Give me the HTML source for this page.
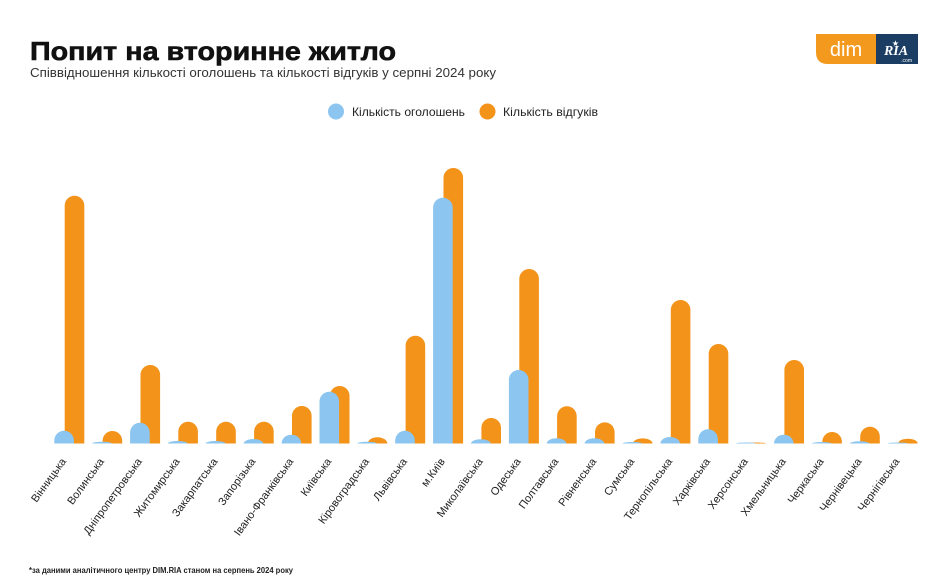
<!DOCTYPE html>
<html><head><meta charset="utf-8">
<style>
html,body{margin:0;padding:0;background:#fff;}
body{width:940px;height:588px;overflow:hidden;}
svg{display:block;}
text{font-family:"Liberation Sans","DejaVu Sans",sans-serif;}
</style></head>
<body>
<svg width="940" height="588" viewBox="0 0 940 588" xmlns="http://www.w3.org/2000/svg">
<rect width="940" height="588" fill="#fff"/>
<text x="30" y="60" font-size="26" font-weight="bold" fill="#111" stroke="#111" stroke-width="0.6" textLength="366" lengthAdjust="spacingAndGlyphs">Попит на вторинне житло</text>
<text x="30" y="77" font-size="12.5" fill="#333" textLength="466" lengthAdjust="spacingAndGlyphs">Співвідношення кількості оголошень та кількості відгуків у серпні 2024 року</text>

<!-- logo -->
<path d="M816,34 H876 V64 H828 Q816,64 816,52 Z" fill="#f39a1e"/>
<text x="846" y="56" font-size="20" fill="#fff" text-anchor="middle">dim</text>
<rect x="876" y="34" width="42" height="30" fill="#1b3d63"/>
<text x="896" y="55" font-size="14" font-weight="bold" font-style="italic" fill="#fff" text-anchor="middle" style="font-family:'Liberation Serif',serif">RIA</text>
<text x="895.5" y="46" font-size="8" fill="#fff" text-anchor="middle">★</text>
<text x="912" y="62" font-size="5" fill="#fff" text-anchor="end">.com</text>

<!-- legend -->
<circle cx="336" cy="111.5" r="8" fill="#8cc5ef"/>
<text x="352" y="116" font-size="11.5" fill="#222" textLength="113" lengthAdjust="spacingAndGlyphs">Кількість оголошень</text>
<circle cx="487.5" cy="111.5" r="8" fill="#f3931a"/>
<text x="503" y="116" font-size="11.5" fill="#222" textLength="95" lengthAdjust="spacingAndGlyphs">Кількість відгуків</text>

<!-- orange bars -->
<g fill="#f3931a">
<path d="M64.7,443.5 V205.5 A9.8,9.8 0 0 1 84.3,205.5 V443.5 Z"/>
<path d="M102.6,443.5 V440.8 A9.8,9.8 0 0 1 122.2,440.8 V443.5 Z"/>
<path d="M140.5,443.5 V374.8 A9.8,9.8 0 0 1 160.1,374.8 V443.5 Z"/>
<path d="M178.3,443.5 V431.5 A9.8,9.8 0 0 1 197.9,431.5 V443.5 Z"/>
<path d="M216.2,443.5 V431.5 A9.8,9.8 0 0 1 235.8,431.5 V443.5 Z"/>
<path d="M254.1,443.5 V431.5 A9.8,9.8 0 0 1 273.7,431.5 V443.5 Z"/>
<path d="M292.0,443.5 V415.8 A9.8,9.8 0 0 1 311.6,415.8 V443.5 Z"/>
<path d="M329.9,443.5 V395.8 A9.8,9.8 0 0 1 349.5,395.8 V443.5 Z"/>
<path d="M367.7,443.5 A9.8,6.2 0 0 1 387.3,443.5 Z"/>
<path d="M405.6,443.5 V345.5 A9.8,9.8 0 0 1 425.2,345.5 V443.5 Z"/>
<path d="M443.5,443.5 V177.8 A9.8,9.8 0 0 1 463.1,177.8 V443.5 Z"/>
<path d="M481.4,443.5 V427.8 A9.8,9.8 0 0 1 501.0,427.8 V443.5 Z"/>
<path d="M519.3,443.5 V278.8 A9.8,9.8 0 0 1 538.9,278.8 V443.5 Z"/>
<path d="M557.1,443.5 V416.1 A9.8,9.8 0 0 1 576.7,416.1 V443.5 Z"/>
<path d="M595.0,443.5 V432.1 A9.8,9.8 0 0 1 614.6,432.1 V443.5 Z"/>
<path d="M632.9,443.5 A9.8,5.2 0 0 1 652.5,443.5 Z"/>
<path d="M670.8,443.5 V309.8 A9.8,9.8 0 0 1 690.4,309.8 V443.5 Z"/>
<path d="M708.7,443.5 V353.8 A9.8,9.8 0 0 1 728.3,353.8 V443.5 Z"/>
<path d="M746.5,443.5 A9.8,1 0 0 1 766.1,443.5 Z"/>
<path d="M784.4,443.5 V369.8 A9.8,9.8 0 0 1 804.0,369.8 V443.5 Z"/>
<path d="M822.3,443.5 V441.8 A9.8,9.8 0 0 1 841.9,441.8 V443.5 Z"/>
<path d="M860.2,443.5 V436.5 A9.8,9.8 0 0 1 879.8,436.5 V443.5 Z"/>
<path d="M898.1,443.5 A9.8,4.8 0 0 1 917.7,443.5 Z"/>
</g>

<!-- blue bars -->
<g fill="#8cc5ef">
<path d="M54.3,443.5 V440.5 A9.8,9.8 0 0 1 73.9,440.5 V443.5 Z"/>
<path d="M92.2,443.5 A9.8,1.8 0 0 1 111.8,443.5 Z"/>
<path d="M130.1,443.5 V432.5 A9.8,9.8 0 0 1 149.7,432.5 V443.5 Z"/>
<path d="M167.9,443.5 A9.8,2.5 0 0 1 187.5,443.5 Z"/>
<path d="M205.8,443.5 A9.8,2.5 0 0 1 225.4,443.5 Z"/>
<path d="M243.7,443.5 A9.8,4.5 0 0 1 263.3,443.5 Z"/>
<path d="M281.6,443.5 A9.8,8.8 0 0 1 301.2,443.5 Z"/>
<path d="M319.5,443.5 V401.5 A9.8,9.8 0 0 1 339.1,401.5 V443.5 Z"/>
<path d="M357.3,443.5 A9.8,1.8 0 0 1 376.9,443.5 Z"/>
<path d="M395.2,443.5 V440.5 A9.8,9.8 0 0 1 414.8,440.5 V443.5 Z"/>
<path d="M433.1,443.5 V207.5 A9.8,9.8 0 0 1 452.7,207.5 V443.5 Z"/>
<path d="M471.0,443.5 A9.8,4.2 0 0 1 490.6,443.5 Z"/>
<path d="M508.9,443.5 V379.8 A9.8,9.8 0 0 1 528.5,379.8 V443.5 Z"/>
<path d="M546.7,443.5 A9.8,5.2 0 0 1 566.3,443.5 Z"/>
<path d="M584.6,443.5 A9.8,5.2 0 0 1 604.2,443.5 Z"/>
<path d="M622.5,443.5 A9.8,1.5 0 0 1 642.1,443.5 Z"/>
<path d="M660.4,443.5 A9.8,6.5 0 0 1 680.0,443.5 Z"/>
<path d="M698.3,443.5 V439.1 A9.8,9.8 0 0 1 717.9,439.1 V443.5 Z"/>
<path d="M736.1,443.5 A9.8,1 0 0 1 755.7,443.5 Z"/>
<path d="M774.0,443.5 A9.8,8.8 0 0 1 793.6,443.5 Z"/>
<path d="M811.9,443.5 A9.8,1.5 0 0 1 831.5,443.5 Z"/>
<path d="M849.8,443.5 A9.8,2.2 0 0 1 869.4,443.5 Z"/>
<path d="M887.7,443.5 A9.8,1 0 0 1 907.3,443.5 Z"/>
</g>

<!-- labels -->
<g font-size="11" fill="#222" text-anchor="end">
<text x="66.6" y="461.5" transform="rotate(-54 66.6 461.5)">Вінницька</text>
<text x="104.5" y="461.5" transform="rotate(-54 104.5 461.5)">Волинська</text>
<text x="142.4" y="461.5" transform="rotate(-54 142.4 461.5)">Дніпропетровська</text>
<text x="180.2" y="461.5" transform="rotate(-54 180.2 461.5)">Житомирська</text>
<text x="218.1" y="461.5" transform="rotate(-54 218.1 461.5)">Закарпатська</text>
<text x="256.0" y="461.5" transform="rotate(-54 256.0 461.5)">Запорізька</text>
<text x="293.9" y="461.5" transform="rotate(-54 293.9 461.5)">Івано-Франківська</text>
<text x="331.8" y="461.5" transform="rotate(-54 331.8 461.5)">Київська</text>
<text x="369.6" y="461.5" transform="rotate(-54 369.6 461.5)">Кіровоградська</text>
<text x="407.5" y="461.5" transform="rotate(-54 407.5 461.5)">Львівська</text>
<text x="445.4" y="461.5" transform="rotate(-54 445.4 461.5)">м.Київ</text>
<text x="483.3" y="461.5" transform="rotate(-54 483.3 461.5)">Миколаївська</text>
<text x="521.2" y="461.5" transform="rotate(-54 521.2 461.5)">Одеська</text>
<text x="559.0" y="461.5" transform="rotate(-54 559.0 461.5)">Полтавська</text>
<text x="596.9" y="461.5" transform="rotate(-54 596.9 461.5)">Рівненська</text>
<text x="634.8" y="461.5" transform="rotate(-54 634.8 461.5)">Сумська</text>
<text x="672.7" y="461.5" transform="rotate(-54 672.7 461.5)">Тернопільська</text>
<text x="710.6" y="461.5" transform="rotate(-54 710.6 461.5)">Харківська</text>
<text x="748.4" y="461.5" transform="rotate(-54 748.4 461.5)">Херсонська</text>
<text x="786.3" y="461.5" transform="rotate(-54 786.3 461.5)">Хмельницька</text>
<text x="824.2" y="461.5" transform="rotate(-54 824.2 461.5)">Черкаська</text>
<text x="862.1" y="461.5" transform="rotate(-54 862.1 461.5)">Чернівецька</text>
<text x="900.0" y="461.5" transform="rotate(-54 900.0 461.5)">Чернігівська</text>
</g>

<text x="29" y="573" font-size="8" font-weight="bold" fill="#222" textLength="264" lengthAdjust="spacingAndGlyphs">*за даними аналітичного центру DIM.RIA станом на серпень 2024 року</text>
</svg>
</body></html>
